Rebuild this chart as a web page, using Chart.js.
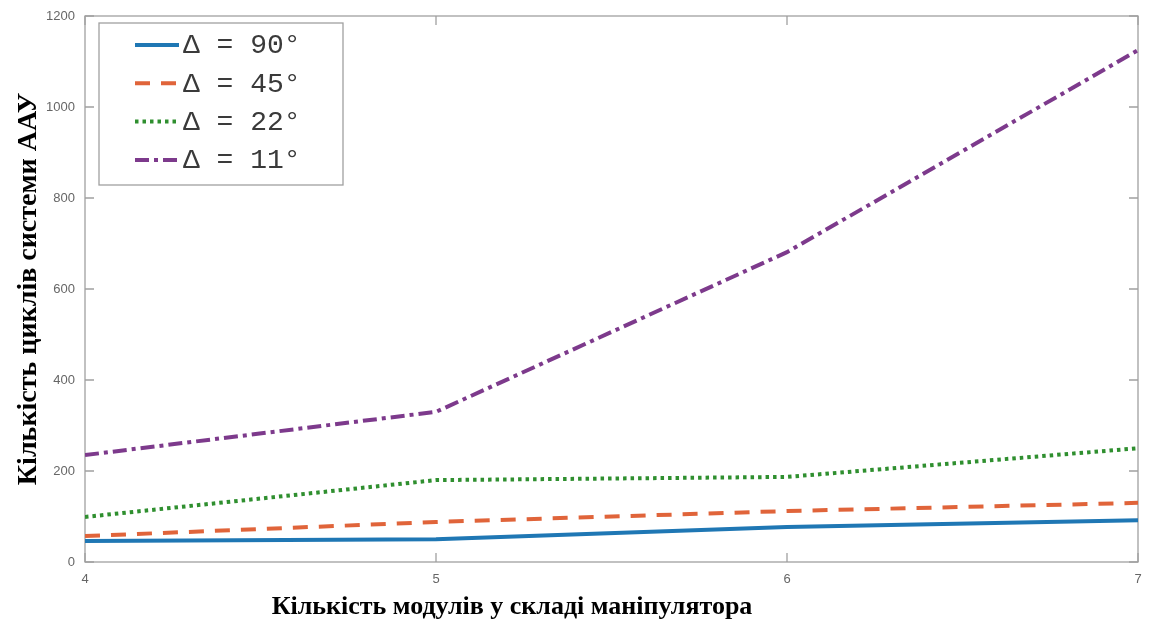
<!DOCTYPE html>
<html lang="uk">
<head>
  <meta charset="UTF-8">
  <title>Кількість циклів системи ААУ</title>
  <script src="https://cdn.jsdelivr.net/npm/chart.js"></script>
  <style>
    body { margin: 0; background: #fff; }
  </style>
</head>
<body>
  <canvas id="cyclesChart" width="1150" height="624"></canvas>

  <script>
    const modules = [4, 5, 6, 7];
    const seriesLabels = ['Δ = 90°', 'Δ = 45°', 'Δ = 22°', 'Δ = 11°'];
    const d90 = [46, 50, 77, 92];
    const d45 = [57, 88, 112, 130];
    const d22 = [99, 180, 187, 250];
    const d11 = [235, 330, 681, 1125];
    const yTitle = 'Кількість циклів системи ААУ';
    const xTitle = 'Кількість модулів у складі маніпулятора';

    const toPoints = vals => vals.map((v, i) => ({ x: modules[i], y: v }));

    // рамка, внутрішні засічки, легенда і підпис осі X
    const framePlugin = {
      id: 'frame',
      beforeDatasetsDraw(chart) {
        const { ctx, chartArea: a, scales: { x, y } } = chart;
        ctx.save();
        ctx.strokeStyle = '#a0a0a0';
        ctx.lineWidth = 1.3;
        ctx.strokeRect(a.left, a.top, a.right - a.left, a.bottom - a.top);
        ctx.beginPath();
        y.ticks.forEach(t => {
          const py = y.getPixelForValue(t.value);
          ctx.moveTo(a.left, py); ctx.lineTo(a.left + 9, py);
          ctx.moveTo(a.right, py); ctx.lineTo(a.right - 9, py);
        });
        x.ticks.forEach(t => {
          const px = x.getPixelForValue(t.value);
          ctx.moveTo(px, a.bottom); ctx.lineTo(px, a.bottom - 9);
          ctx.moveTo(px, a.top); ctx.lineTo(px, a.top + 9);
        });
        ctx.stroke();
        ctx.restore();
      },
      afterDraw(chart) {
        const { ctx, chartArea: a } = chart;
        ctx.save();
        const bx = a.left + 14, by = a.top + 7, bw = 244, bh = 162;
        ctx.fillStyle = '#fff';
        ctx.fillRect(bx, by, bw, bh);
        ctx.strokeStyle = '#a0a0a0';
        ctx.lineWidth = 1.3;
        ctx.strokeRect(bx, by, bw, bh);
        chart.data.datasets.forEach((ds, i) => {
          const ly = by + 22 + i * 38.3;
          ctx.strokeStyle = ds.borderColor;
          ctx.lineWidth = ds.borderWidth;
          ctx.setLineDash(ds.borderDash || []);
          ctx.beginPath();
          ctx.moveTo(bx + 36, ly);
          ctx.lineTo(bx + 80, ly);
          ctx.stroke();
          ctx.setLineDash([]);
          ctx.fillStyle = '#3a3a3a';
          ctx.font = '28px "Liberation Mono"';
          ctx.textBaseline = 'middle';
          ctx.textAlign = 'left';
          ctx.fillText(ds.label, bx + 84, ly + 1);
        });
        ctx.fillStyle = '#000';
        ctx.font = 'bold 26px "Liberation Serif"';
        ctx.textAlign = 'center';
        ctx.textBaseline = 'middle';
        ctx.fillText(xTitle, 512, 607);
        ctx.restore();
      }
    };

    new Chart(document.getElementById('cyclesChart'), {
      type: 'line',
      data: {
        datasets: [
          { label: seriesLabels[0], data: toPoints(d90), borderColor: '#1f77b4', borderWidth: 4 },
          { label: seriesLabels[1], data: toPoints(d45), borderColor: '#e0643a', borderWidth: 4, borderDash: [15, 11] },
          { label: seriesLabels[2], data: toPoints(d22), borderColor: '#2f8f2f', borderWidth: 4, borderDash: [3.5, 4] },
          { label: seriesLabels[3], data: toPoints(d11), borderColor: '#7d3a8c', borderWidth: 4, borderDash: [14, 5, 4, 5] }
        ]
      },
      options: {
        responsive: false,
        animation: false,
        layout: { padding: { top: 16, right: 12, left: 0, bottom: 0 } },
        elements: { point: { radius: 0 }, line: { tension: 0 } },
        plugins: {
          legend: { display: false },
          tooltip: { enabled: false }
        },
        scales: {
          x: {
            type: 'linear',
            min: 4,
            max: 7,
            ticks: { stepSize: 1, color: '#666', font: { family: 'Liberation Sans', size: 13 }, padding: 2 },
            grid: { display: false },
            border: { display: false },
            afterFit: s => { s.height = 62; }
          },
          y: {
            min: 0,
            max: 1200,
            ticks: {
              stepSize: 200, color: '#666', font: { family: 'Liberation Sans', size: 13 }, padding: 2,
              callback: v => String(v)
            },
            grid: { display: false },
            border: { display: false },
            title: {
              display: true,
              text: yTitle,
              color: '#000',
              font: { family: 'Liberation Serif', size: 28, weight: 'bold' },
              padding: { top: 12, bottom: 0 }
            },
            afterFit: s => { s.width = 85; }
          }
        }
      },
      plugins: [framePlugin]
    });
  </script>
</body>
</html>
